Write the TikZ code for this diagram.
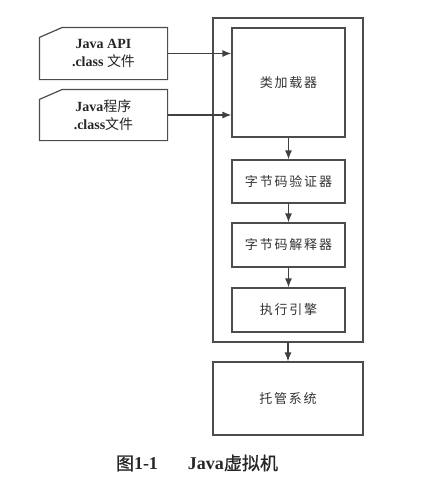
\documentclass[tikz,border=0pt]{standalone}
\usepackage{fontspec}
\setmainfont{Liberation Serif}
\newfontfamily\cjk{Noto Sans CJK SC}
\newfontfamily\cjkbox[LetterSpace=14]{Noto Sans CJK SC}
\newfontfamily\cjkcap[FakeBold=0.8]{Noto Sans CJK SC}
\usetikzlibrary{arrows.meta}

\begin{document}
\begin{tikzpicture}[x=1pt, y=-1pt, line width=1.2pt,
  box/.style={draw=black!70, rectangle, inner sep=0pt, text=black!80,
    font=\fontsize{13}{16}\selectfont\cjkbox},
  card/.style={rectangle, inner sep=0pt, minimum width=127pt,
    minimum height=50pt, align=center, text=black!85,
    font=\fontsize{14}{18}\selectfont\bfseries},
  cut/.style={draw=black!70, line join=miter},
  arr/.style={-{Latex[length=9pt, width=7pt]}, draw=black!75}]
  \useasboundingbox (0,0) rectangle (441,480);

  % 虚拟机外框及内部各部件
  \node[box, minimum width=150pt, minimum height=324pt] (jvm) at (288,180) {};
  \node[box, minimum width=113pt, minimum height=109pt] (loader) at (288.5,82.5) {类加载器};
  \node[box, minimum width=113pt, minimum height=43pt] (verify) at (288.5,181.5) {字节码验证器};
  \node[box, minimum width=113pt, minimum height=44pt] (interp) at (288.5,245) {字节码解释器};
  \node[box, minimum width=113pt, minimum height=44pt] (engine) at (288.5,310) {执行引擎};
  \node[box, minimum width=150pt, minimum height=73pt] (host) at (288,398.5) {托管系统};

  % 左侧的两个 class 文件（左上角切去一角）
  \node[card, minimum height=51pt] (api) at (103.5,53.5) {Java API\\.class {\cjk\mdseries 文件}};
  \node[card] (app) at (103.5,115) {Java{\cjk\mdseries 程序}\\.class{\cjk\mdseries 文件}};
  \foreach \f in {api, app}
    \draw[cut] ([yshift=-10pt]\f.north west) -- ([xshift=23pt]\f.north west)
      -- (\f.north east) -- (\f.south east) -- (\f.south west) -- cycle;

  \draw[arr] (api.east) -- (api.east -| loader.west);
  \draw[arr] (app.east) -- (app.east -| loader.west);
  \draw[arr] (loader) -- (verify);
  \draw[arr] (verify) -- (interp);
  \draw[arr] (interp) -- (engine);
  \draw[arr] (jvm) -- (host);

  \node[text=black!85, font=\fontsize{18}{21}\selectfont\bfseries] (caption) at (197,463)
    {{\cjkcap\mdseries 图}1-1\hspace{30pt}Java{\cjkcap\mdseries 虚拟机}};
\end{tikzpicture}
\end{document}
